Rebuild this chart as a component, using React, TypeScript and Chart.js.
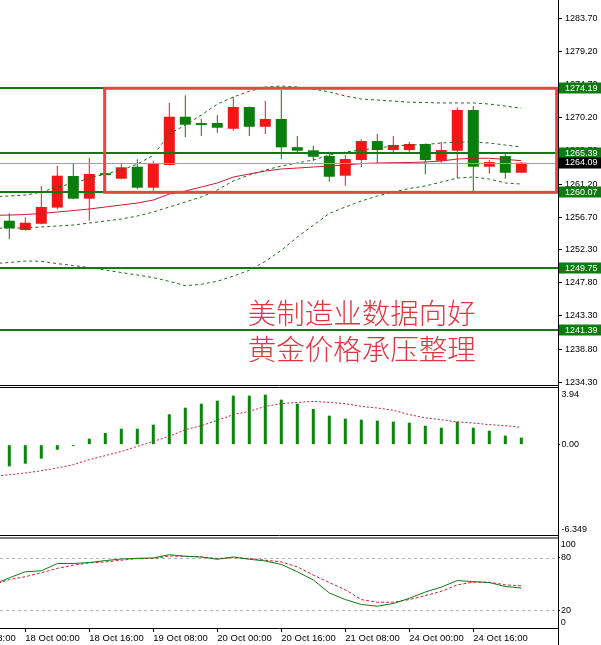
import React, { useEffect, useRef } from 'react';
import { Chart, registerables } from 'chart.js';

Chart.register(...registerables);

// ---------- data ----------
const TIMES = [
  '17 Oct 16:00', '17 Oct 20:00',
  '18 Oct 00:00', '18 Oct 04:00', '18 Oct 08:00', '18 Oct 12:00', '18 Oct 16:00', '18 Oct 20:00',
  '19 Oct 00:00', '19 Oct 04:00', '19 Oct 08:00', '19 Oct 12:00', '19 Oct 16:00', '19 Oct 20:00',
  '20 Oct 00:00', '20 Oct 04:00', '20 Oct 08:00', '20 Oct 12:00', '20 Oct 16:00', '20 Oct 20:00',
  '21 Oct 00:00', '21 Oct 04:00', '21 Oct 08:00', '21 Oct 12:00', '21 Oct 16:00', '21 Oct 20:00',
  '24 Oct 00:00', '24 Oct 04:00', '24 Oct 08:00', '24 Oct 12:00', '24 Oct 16:00', '24 Oct 20:00',
  '25 Oct 00:00', '25 Oct 04:00',
];

const AXIS_LABELS = [
  '17 Oct 08:00', '18 Oct 00:00', '18 Oct 16:00', '19 Oct 08:00', '20 Oct 00:00',
  '20 Oct 16:00', '21 Oct 08:00', '24 Oct 00:00', '24 Oct 16:00',
];
const BARS_PER_LABEL = 4;

const OPEN = [null, 1256.22, 1254.96, 1255.81, 1258.0, 1262.29, 1259.21, 1262.65, 1261.92, 1263.55, 1260.7,
  1263.78, 1270.33, 1269.35, 1269.48, 1268.7, 1271.65, 1268.97, 1270.02, 1266.2, 1265.77,
  1265.0, 1262.33, 1264.46, 1267.03, 1265.81, 1265.81, 1266.63, 1264.36, 1265.72, 1271.24,
  1263.55, 1265.0, 1262.73];
const HIGH = [null, 1257.22, 1256.68, 1260.93, 1263.64, 1264.0, 1264.73, 1262.7, 1264.0, 1264.55, 1264.28,
  1272.23, 1273.24, 1270.06, 1270.52, 1273.05, 1271.7, 1272.5, 1273.95, 1267.71, 1266.4,
  1265.58, 1265.13, 1267.26, 1267.98, 1267.71, 1266.9, 1266.7, 1266.9, 1271.6, 1271.78,
  1264.46, 1265.27, 1264.2];
const LOW = [null, 1253.7, 1254.9, 1255.75, 1257.77, 1259.12, 1256.22, 1262.3, 1261.84, 1260.48, 1260.29,
  1263.7, 1267.54, 1267.71, 1268.16, 1268.43, 1267.71, 1267.98, 1264.63, 1265.37, 1264.36,
  1261.51, 1260.97, 1263.47, 1263.87, 1265.27, 1265.27, 1262.52, 1264.09, 1262.0, 1260.16,
  1262.6, 1261.92, 1262.73];
const CLOSE = [null, 1255.19, 1255.95, 1258.08, 1262.33, 1259.21, 1262.56, 1262.4, 1263.47, 1260.7, 1264.0,
  1270.33, 1269.25, 1269.2, 1268.84, 1271.65, 1268.97, 1270.02, 1266.18, 1265.72, 1264.9,
  1262.19, 1264.59, 1267.03, 1265.81, 1266.49, 1266.63, 1264.46, 1265.81, 1271.24, 1263.55,
  1264.18, 1262.73, 1264.09];

const BAND_UPPER = [1259.5, 1259.57, 1259.7, 1260.1, 1260.8, 1261.3, 1262.0, 1262.56, 1263.1, 1263.9, 1265.1,
  1267.98, 1269.2, 1270.56, 1272.05, 1273.0, 1273.8, 1274.36, 1274.5, 1274.36, 1274.09,
  1273.7, 1273.14, 1272.73, 1272.6, 1272.46, 1272.3, 1272.26, 1272.2, 1272.2, 1272.2,
  1272.05, 1271.78, 1271.5];
const BAND_MID = [1256.95, 1256.99, 1257.06, 1257.2, 1257.4, 1257.6, 1257.81, 1258.08, 1258.35, 1258.62, 1259.03,
  1259.84, 1260.25, 1260.79, 1261.34, 1262.15, 1262.56, 1262.96, 1263.24, 1263.37, 1263.51,
  1263.64, 1263.78, 1263.98, 1264.05, 1264.09, 1264.12, 1264.19, 1264.32, 1264.59, 1264.69,
  1264.69, 1264.55, 1264.36];
const BAND_INNER = [1255.2, 1255.23, 1255.23, 1255.37, 1255.5, 1255.64, 1255.91, 1256.18, 1256.45, 1256.86, 1257.4,
  1258.08, 1258.76, 1259.44, 1260.39, 1261.61, 1262.42, 1263.1, 1263.64, 1264.05, 1264.46,
  1265.13, 1265.54, 1265.81, 1266.08, 1266.36, 1266.49, 1266.56, 1266.76, 1266.9, 1266.9,
  1266.76, 1266.49, 1266.22];
const BAND_LOWER = [1250.4, 1250.55, 1250.75, 1250.72, 1250.4, 1250.14, 1249.87, 1249.53, 1249.19, 1248.85, 1248.5,
  1248.0, 1247.4, 1247.6, 1248.0, 1248.7, 1249.5, 1250.7, 1252.2, 1254.0, 1255.6,
  1257.2, 1258.08, 1258.89, 1259.57, 1260.11, 1260.59, 1260.93, 1261.47, 1262.01, 1262.15,
  1261.88, 1261.34, 1261.2];

const MACD_HIST = [null, -1.51, -1.32, -0.97, -0.35, -0.1, 0.42, 0.81, 1.11, 1.11, 1.39,
  2.11, 2.57, 2.85, 3.06, 3.41, 3.41, 3.48, 3.13, 2.85, 2.48,
  2.02, 1.81, 1.74, 1.67, 1.6, 1.53, 1.32, 1.18, 1.6, 1.18,
  0.97, 0.63, 0.49];
const MACD_SIGNAL = [-2.2, -2.09, -1.97, -1.81, -1.62, -1.39, -1.04, -0.76, -0.47, -0.12, 0.23,
  0.58, 1.04, 1.32, 1.69, 2.09, 2.32, 2.66, 2.85, 2.94, 3.01,
  2.94, 2.85, 2.66, 2.55, 2.39, 2.09, 1.86, 1.74, 1.58, 1.51,
  1.39, 1.32, 1.2];

const STOCH_MAIN = [49.6, 57, 63.9, 65, 73.3, 73.3, 74.4, 76.6, 78.4, 79.2, 79.6,
  83.3, 81.5, 80.7, 78.1, 80.7, 78.1, 76.2, 72.2, 63.9, 54.6,
  39.8, 32.3, 26.7, 24.8, 27.8, 33.7, 40.9, 46.5, 53.9, 52.7,
  51.6, 47.2, 45.4];
const STOCH_SIGNAL = [49, 55, 58.3, 62.8, 67.7, 71.4, 74, 75.1, 77, 78.9, 78.9,
  81.8, 81.5, 80.7, 78.9, 80, 78.9, 77, 75.1, 69.5, 60.2,
  51.6, 43.5, 32.3, 29.3, 29.3, 32.3, 36.8, 41.6, 49, 52.1,
  52.1, 49, 47.9];

const PRICE_TICKS = [1283.7, 1279.2, 1274.7, 1270.2, 1265.7, 1261.2, 1256.7, 1252.3, 1247.8, 1243.3, 1238.8, 1234.3];
const LEVELS = [1274.19, 1265.39, 1260.07, 1249.75, 1241.39];
const STOCH_LEVELS = [20, 80];
const STOCH_TICKS = [20, 80];
const MACD_TICKS = [0];

const NOTE_LINES = ['美制造业数据向好', '黄金价格承压整理'];

// ---------- view / style ----------
const X_MIN = 0.41875;
const X_MAX = X_MIN + 558 / 16;
const MAIN_MIN = 1233.93;
const MAIN_MAX = 1286.17;
const MACD_MIN = -6.349;
const MACD_MAX = 3.94;
const STOCH_MIN = 0;
const STOCH_MAX = 100;

const RECT = { from: 6.96, to: 35.21, high: 1274.19, low: 1260.07 };
const NOTE_X = 15.9;
const NOTE_Y = [1243.63, 1238.74];

const AXIS_W = 43;
const UP = '#f21616';
const DOWN = '#0b7d0b';
const LEVEL_GREEN = '#0f7a0f';
const BAND_GREEN = '#1a6e1a';
const MID_RED = '#cc1a33';
const RECT_RED = '#e84545';
const NOTE_RED = '#e3343f';
const FONT = "'Liberation Sans', Arial, sans-serif";

const LAST_PRICE = CLOSE[CLOSE.length - 1] as number;
const AXIS_TICKS = AXIS_LABELS.map((l, i) => {
  const k = TIMES.indexOf(l);
  return k >= 0 ? k : TIMES.indexOf(AXIS_LABELS[i + 1]) - BARS_PER_LABEL;
});

const candleK = TIMES.map((_, k) => k).filter((k) => OPEN[k] != null);
const pts = (arr: (number | null)[]) =>
  arr.map((v, k) => (v == null ? null : { x: k, y: v })).filter((p) => p != null) as { x: number; y: number }[];

const xHidden = { type: 'linear' as const, min: X_MIN, max: X_MAX, display: false, offset: false };

function yAxis(min: number, max: number, ticks: number[], fmt: (v: number) => string, tickLen: number, pad: number) {
  return {
    type: 'linear' as const,
    position: 'right' as const,
    min, max, beginAtZero: false,
    afterBuildTicks: (s: any) => { s.ticks = ticks.map((v) => ({ value: v })); },
    afterFit: (s: any) => { s.width = AXIS_W; s.paddingTop = 0; s.paddingBottom = 0; },
    ticks: { callback: (v: any) => fmt(Number(v)), color: '#000', font: { family: FONT, size: 9 }, padding: pad, autoSkip: false },
    grid: { drawOnChartArea: false, drawTicks: true, tickLength: tickLen, color: '#000' },
    border: { display: false },
  };
}

function hline(ctx: CanvasRenderingContext2D, x0: number, x1: number, y: number) {
  ctx.beginPath(); ctx.moveTo(x0, y); ctx.lineTo(x1, y); ctx.stroke();
}

function frame(ctx: CanvasRenderingContext2D, chart: any, ys: number[]) {
  const a = chart.chartArea;
  ctx.save();
  ctx.strokeStyle = '#000'; ctx.lineWidth = 1;
  ys.forEach((y) => hline(ctx, 0, a.right + 1, y));
  ctx.beginPath(); ctx.moveTo(a.right + 0.5, 0); ctx.lineTo(a.right + 0.5, chart.height); ctx.stroke();
  ctx.restore();
}

const mainPlugin = {
  id: 'mainOverlay',
  afterDatasetsDraw(chart: any) {
    const { ctx, chartArea: a, scales: { x, y } } = chart;
    ctx.save();
    ctx.beginPath(); ctx.rect(a.left, a.top, a.right - a.left, a.bottom - a.top); ctx.clip();
    ctx.strokeStyle = '#a0a0a0'; ctx.lineWidth = 1;
    hline(ctx, a.left, a.right, Math.round(y.getPixelForValue(LAST_PRICE)) + 0.5);
    ctx.strokeStyle = LEVEL_GREEN; ctx.lineWidth = 2;
    LEVELS.forEach((v) => hline(ctx, a.left, a.right, Math.round(y.getPixelForValue(v))));
    const rx0 = x.getPixelForValue(RECT.from), rx1 = x.getPixelForValue(RECT.to);
    const ry0 = y.getPixelForValue(RECT.high), ry1 = y.getPixelForValue(RECT.low);
    ctx.strokeStyle = RECT_RED; ctx.lineWidth = 3;
    ctx.strokeRect(rx0, ry0, rx1 - rx0, ry1 - ry0);
    ctx.fillStyle = NOTE_RED;
    ctx.font = "300 28.5px 'Noto Sans CJK SC', sans-serif";
    ctx.textBaseline = 'middle'; ctx.textAlign = 'left';
    NOTE_LINES.forEach((t, i) => ctx.fillText(t, x.getPixelForValue(NOTE_X), y.getPixelForValue(NOTE_Y[i])));
    ctx.restore();
  },
  afterDraw(chart: any) {
    const { ctx, chartArea: a, scales: { y } } = chart;
    frame(ctx, chart, [a.bottom + 0.5]);
    ctx.save();
    ctx.font = `9px ${FONT}`; ctx.textBaseline = 'middle'; ctx.textAlign = 'left';
    const box = (v: number, bg: string) => {
      const py = y.getPixelForValue(v);
      ctx.fillStyle = bg; ctx.fillRect(a.right + 1, Math.round(py) - 5.5, chart.width - a.right - 1, 11);
      ctx.fillStyle = '#fff'; ctx.fillText(v.toFixed(2), a.right + 7, py);
    };
    LEVELS.forEach((v) => box(v, LEVEL_GREEN));
    box(LAST_PRICE, '#000');
    ctx.restore();
  },
};

const macdPlugin = {
  id: 'macdOverlay',
  afterDraw(chart: any) {
    const { ctx, chartArea: a } = chart;
    frame(ctx, chart, [a.top - 0.5, a.bottom - 0.5]);
    ctx.save();
    ctx.font = `9px ${FONT}`; ctx.fillStyle = '#000'; ctx.textBaseline = 'middle'; ctx.textAlign = 'left';
    ctx.fillText(String(MACD_MAX), a.right + 3.5, a.top + 6.5);
    ctx.fillText(String(MACD_MIN), a.right + 3.5, a.bottom - 6);
    ctx.restore();
  },
};

const stochPlugin = {
  id: 'stochOverlay',
  beforeDatasetsDraw(chart: any) {
    const { ctx, chartArea: a, scales: { y } } = chart;
    ctx.save();
    ctx.strokeStyle = '#b4b4b4'; ctx.lineWidth = 1; ctx.setLineDash([3, 3]);
    STOCH_LEVELS.forEach((v) => hline(ctx, a.left, a.right, Math.round(y.getPixelForValue(v)) + 0.5));
    ctx.restore();
  },
  afterDraw(chart: any) {
    const { ctx, chartArea: a } = chart;
    frame(ctx, chart, [1, a.bottom + 0.5]);
    ctx.save();
    ctx.font = `9px ${FONT}`; ctx.fillStyle = '#000'; ctx.textBaseline = 'middle'; ctx.textAlign = 'left';
    ctx.fillText(String(STOCH_MAX), a.right + 2.7, a.top + 5);
    ctx.fillText(String(STOCH_MIN), a.right + 2.7, a.bottom - 5.7);
    ctx.restore();
  },
};

const lineDs = (data: (number | null)[], color: string, dash: number[], order = 0) => ({
  type: 'line' as const,
  data: pts(data),
  borderColor: color,
  borderWidth: 1,
  borderDash: dash,
  pointRadius: 0,
  fill: false,
  tension: 0,
  order,
});

const common = {
  responsive: false,
  animation: false as const,
  events: [] as any[],
  plugins: { legend: { display: false }, tooltip: { enabled: false } },
};

function mainConfig(): any {
  return {
    type: 'bar',
    data: {
      datasets: [
        lineDs(BAND_UPPER, BAND_GREEN, [3, 3]),
        lineDs(BAND_INNER, BAND_GREEN, [3, 3]),
        lineDs(BAND_LOWER, BAND_GREEN, [3, 3]),
        lineDs(BAND_MID, MID_RED, []),
        {
          type: 'bar',
          data: candleK.map((k) => ({ x: k, y: [OPEN[k], CLOSE[k]] })),
          backgroundColor: candleK.map((k) => ((CLOSE[k] as number) >= (OPEN[k] as number) ? UP : DOWN)),
          barThickness: 11, grouped: false, minBarLength: 2, borderWidth: 0, inflateAmount: 0, order: 1,
        },
        {
          type: 'bar',
          data: candleK.map((k) => ({ x: k, y: [LOW[k], HIGH[k]] })),
          backgroundColor: candleK.map((k) => ((CLOSE[k] as number) >= (OPEN[k] as number) ? UP : DOWN)),
          barThickness: 1, grouped: false, borderWidth: 0, inflateAmount: 0, order: 2,
        },
      ],
    },
    options: {
      ...common,
      layout: { padding: { top: 0, bottom: 1, left: 0, right: 0 } },
      scales: {
        x: xHidden,
        y: yAxis(MAIN_MIN, MAIN_MAX, PRICE_TICKS, (v) => v.toFixed(2), 4, 3),
      },
    },
    plugins: [mainPlugin],
  };
}

function macdConfig(): any {
  return {
    type: 'bar',
    data: {
      datasets: [
        lineDs(MACD_SIGNAL, '#c81e3c', [2, 2], 0),
        {
          type: 'bar',
          data: pts(MACD_HIST),
          backgroundColor: '#0a860a',
          barThickness: 3, grouped: false, borderWidth: 0, inflateAmount: 0, order: 1,
        },
      ],
    },
    options: {
      ...common,
      layout: { padding: { top: 2, bottom: 1, left: 0, right: 0 } },
      scales: {
        x: xHidden,
        y: yAxis(MACD_MIN, MACD_MAX, MACD_TICKS, (v) => v.toFixed(2), 2, 1.5),
      },
    },
    plugins: [macdPlugin],
  };
}

function stochConfig(): any {
  return {
    type: 'line',
    data: {
      datasets: [
        lineDs(STOCH_MAIN, '#137a13', [], 0),
        lineDs(STOCH_SIGNAL, '#d0203a', [3, 2], 1),
      ],
    },
    options: {
      ...common,
      layout: { padding: { top: 3, bottom: 0, left: 0, right: 0 } },
      scales: {
        x: {
          type: 'linear', min: X_MIN, max: X_MAX, offset: false, position: 'bottom',
          afterBuildTicks: (s: any) => { s.ticks = AXIS_TICKS.map((v) => ({ value: v })); },
          afterFit: (s: any) => { s.height = 17; s.paddingLeft = 0; s.paddingRight = 0; },
          ticks: {
            callback: (_v: any, i: number) => AXIS_LABELS[i],
            align: 'start', maxRotation: 0, minRotation: 0, autoSkip: false, padding: 1,
            color: '#000', font: { family: "'Liberation Sans Narrow', 'Liberation Sans', Arial", size: 9.5 },
          },
          grid: { drawOnChartArea: false, drawTicks: true, tickLength: 4, color: '#000' },
          border: { display: false },
        },
        y: yAxis(STOCH_MIN, STOCH_MAX, STOCH_TICKS, (v) => String(v), 2, 1),
      },
    },
    plugins: [stochPlugin],
  };
}

export default function App() {
  const mainRef = useRef<HTMLCanvasElement>(null);
  const macdRef = useRef<HTMLCanvasElement>(null);
  const stochRef = useRef<HTMLCanvasElement>(null);

  useEffect(() => {
    const charts = [
      new Chart(mainRef.current as HTMLCanvasElement, mainConfig()),
      new Chart(macdRef.current as HTMLCanvasElement, macdConfig()),
      new Chart(stochRef.current as HTMLCanvasElement, stochConfig()),
    ];
    return () => charts.forEach((c) => c.destroy());
  }, []);

  return (
    <div style={{ position: 'absolute', left: 0, top: 0, width: 601, height: 645, background: '#fff', overflow: 'hidden' }}>
      <canvas ref={mainRef} width={601} height={386} style={{ position: 'absolute', left: 0, top: 0 }} />
      <canvas ref={macdRef} width={601} height={151} style={{ position: 'absolute', left: 0, top: 386 }} />
      <canvas ref={stochRef} width={601} height={108} style={{ position: 'absolute', left: 0, top: 537 }} />
    </div>
  );
}
